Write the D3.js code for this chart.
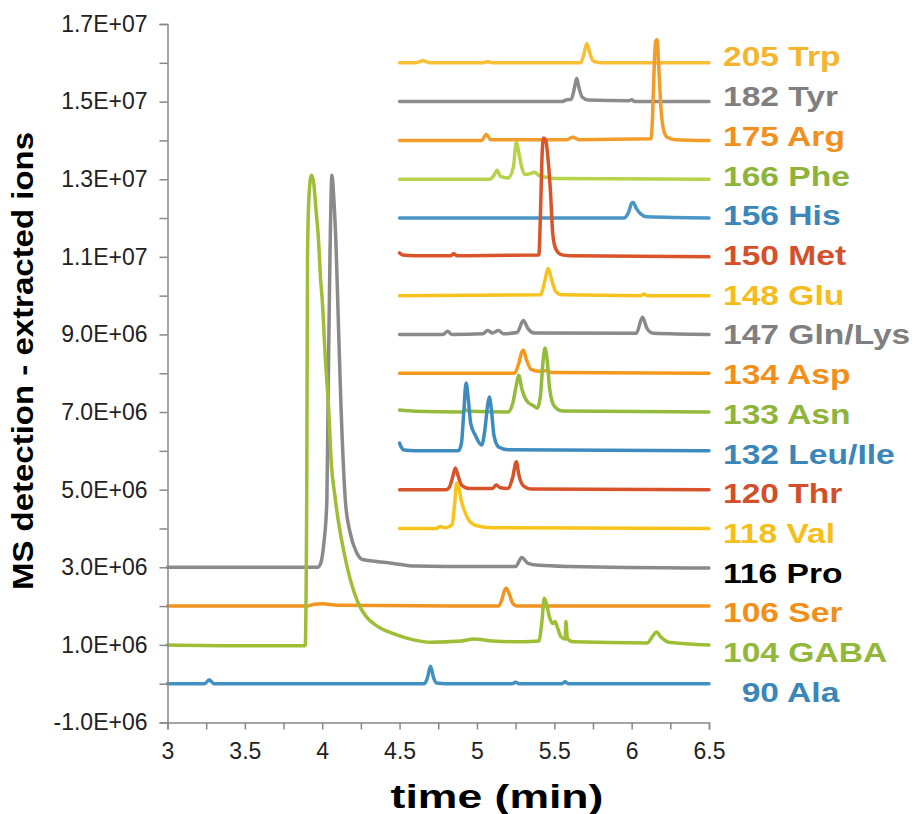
<!DOCTYPE html>
<html><head><meta charset="utf-8">
<script src="https://cdn.jsdelivr.net/npm/d3@7"></script>
<style>body{margin:0;background:#fff}svg{display:block}</style>
</head><body>
<svg id="c" width="916" height="814"></svg>
<script>
// ---- data (values in units of 1E+06 counts) ----
const names = ["205 Trp","182 Tyr","175 Arg","166 Phe","156 His","150 Met","148 Glu","147 Gln/Lys","134 Asp","133 Asn","132 Leu/Ile","120 Thr","118 Val","116 Pro","106 Ser","104 GABA","90 Ala"];
const lineColors = ["#F8BE34","#8C8C8C","#F39C2C","#B7D34C","#4A96C6","#DA5429","#F7C21E","#8A8A8A","#F39A1E","#93BB3C","#3E8CBF","#D9532A","#F8C31B","#8A8A8A","#F29420","#9DBE35","#4290C2"];
const labelColors = ["#F4B42E","#7F7F7F","#F0901E","#8DB33B","#3A86B8","#D4502A","#F5BC1B","#7F7F7F","#F0901A","#8EB43A","#3A86B8","#D24F29","#F5BF1A","#000000","#F0901A","#93B73A","#3A86B8"];

const trp = [[4.5,16.0],[4.6,16.0],[4.65,16.05],[4.7,16.0],[5.04,16.0],[5.07,16.03],[5.1,16.0],[5.67,16.0],[5.69,16.2],[5.71,16.5],[5.73,16.25],[5.75,16.05],[5.8,16.0],[6.5,16.0]];
const tyr = [[4.5,15.0],[5.55,15.0],[5.58,15.05],[5.61,15.06],[5.63,15.35],[5.645,15.6],[5.66,15.35],[5.68,15.12],[5.72,15.04],[5.98,15.02],[6.0,15.05],[6.02,15.0],[6.5,15.0]];
const arg = [[4.5,14.0],[5.03,14.0],[5.06,14.15],[5.09,14.02],[5.58,14.02],[5.62,14.08],[5.66,14.02],[6.125,14.04],[6.135,14.6],[6.145,15.8],[6.155,16.55],[6.165,16.6],[6.175,15.9],[6.19,14.8],[6.205,14.3],[6.23,14.08],[6.28,14.02],[6.5,14.0]];
const phe = [[4.5,13.0],[5.08,13.0],[5.11,13.1],[5.13,13.23],[5.15,13.08],[5.2,13.03],[5.235,13.3],[5.255,13.96],[5.27,13.7],[5.29,13.3],[5.31,13.12],[5.35,13.15],[5.37,13.18],[5.4,13.1],[5.45,13.05],[5.5,13.02],[6.5,13.0]];
const his = [[4.5,12.0],[5.95,12.0],[5.98,12.15],[6.0,12.38],[6.01,12.4],[6.03,12.25],[6.06,12.1],[6.1,12.03],[6.5,12.0]];
const met = [[4.5,11.1],[4.52,11.05],[4.6,11.03],[4.83,11.03],[4.85,11.08],[4.87,11.03],[5.4,11.05],[5.41,12.0],[5.42,13.5],[5.43,14.06],[5.445,14.0],[5.46,13.5],[5.475,12.7],[5.49,11.6],[5.51,11.2],[5.55,11.05],[5.6,11.03],[6.5,11.0]];
const glu = [[4.5,10.0],[5.41,10.02],[5.44,10.4],[5.46,10.7],[5.48,10.45],[5.51,10.1],[5.55,10.02],[6.06,10.0],[6.08,10.04],[6.1,10.0],[6.5,10.0]];
const glnlys = [[4.5,9.0],[4.78,9.0],[4.81,9.08],[4.84,9.0],[5.04,9.02],[5.07,9.1],[5.1,9.04],[5.14,9.1],[5.17,9.02],[5.26,9.05],[5.3,9.36],[5.33,9.15],[5.37,9.04],[6.03,9.03],[6.07,9.44],[6.1,9.15],[6.14,9.03],[6.5,9.0]];
const asp = [[4.5,8.0],[5.24,8.0],[5.27,8.25],[5.29,8.55],[5.3,8.6],[5.32,8.35],[5.35,8.1],[5.4,8.05],[5.45,8.07],[5.48,8.02],[6.5,8.0]];
const asn = [[4.5,7.05],[4.6,7.02],[4.9,7.0],[4.93,7.05],[4.95,7.02],[5.2,7.0],[5.23,7.2],[5.255,7.7],[5.27,7.95],[5.29,7.6],[5.32,7.3],[5.37,7.15],[5.39,7.1],[5.41,7.4],[5.425,8.2],[5.44,8.65],[5.455,8.3],[5.47,7.6],[5.5,7.15],[5.55,7.03],[6.5,7.0]];
const leuile = [[4.5,6.2],[4.51,6.1],[4.53,6.02],[4.6,6.0],[4.88,6.0],[4.9,6.2],[4.915,7.0],[4.93,7.75],[4.945,7.3],[4.96,6.7],[4.99,6.4],[5.03,6.15],[5.05,6.5],[5.07,7.2],[5.08,7.39],[5.095,7.0],[5.11,6.4],[5.14,6.1],[5.2,6.03],[6.5,6.0]];
const thr = [[4.5,5.0],[4.8,5.0],[4.82,5.05],[4.845,5.35],[4.86,5.56],[4.875,5.4],[4.9,5.12],[4.95,5.03],[5.1,5.03],[5.125,5.12],[5.15,5.05],[5.2,5.03],[5.23,5.3],[5.255,5.72],[5.27,5.4],[5.3,5.1],[5.35,5.02],[6.5,5.0]];
const val = [[4.5,4.0],[4.74,4.0],[4.76,4.05],[4.8,4.02],[4.84,4.1],[4.855,4.6],[4.87,5.17],[4.885,5.0],[4.9,4.7],[4.92,4.45],[4.95,4.2],[5.0,4.07],[5.1,4.02],[6.5,4.0]];
const pro = [[3.0,3.0],[3.5,3.0],[3.97,3.0],[3.99,3.1],[4.01,3.6],[4.03,4.7],[4.04,8.0],[4.05,11.0],[4.063,13.1],[4.075,12.5],[4.09,11.2],[4.1,9.9],[4.12,7.3],[4.15,4.7],[4.18,3.9],[4.22,3.4],[4.26,3.2],[4.35,3.15],[4.46,3.1],[4.6,3.03],[4.8,3.02],[5.25,3.02],[5.29,3.25],[5.33,3.1],[5.4,3.05],[5.6,3.02],[6.5,2.98]];
const ser = [[3.0,2.0],[3.9,2.0],[3.95,2.05],[4.0,2.06],[4.1,2.02],[5.14,2.0],[5.16,2.15],[5.18,2.42],[5.19,2.46],[5.21,2.3],[5.23,2.08],[5.26,2.0],[6.5,2.0]];
const gaba = [[3.0,1.0],[3.5,0.98],[3.89,0.98],[3.9,5.0],[3.905,11.0],[3.915,12.6],[3.93,13.1],[3.945,12.9],[3.96,12.2],[3.975,11.5],[3.99,10.4],[4.0,9.9],[4.02,8.4],[4.04,7.2],[4.06,5.6],[4.08,4.9],[4.1,4.3],[4.14,3.4],[4.18,2.7],[4.23,2.1],[4.28,1.75],[4.36,1.47],[4.46,1.29],[4.59,1.13],[4.7,1.07],[4.9,1.1],[4.98,1.15],[5.1,1.1],[5.3,1.08],[5.4,1.1],[5.42,1.6],[5.435,2.2],[5.45,2.05],[5.47,1.7],[5.49,1.55],[5.505,1.6],[5.52,1.45],[5.545,1.2],[5.57,1.15],[5.575,1.6],[5.585,1.15],[5.62,1.08],[6.1,1.05],[6.14,1.25],[6.16,1.33],[6.19,1.2],[6.24,1.07],[6.5,1.0]];
const ala = [[3.0,0.0],[3.24,0.0],[3.27,0.1],[3.3,0.0],[4.66,0.0],[4.68,0.15],[4.7,0.45],[4.72,0.15],[4.74,0.02],[4.8,0.0],[5.23,0.0],[5.25,0.04],[5.27,0.0],[5.55,0.0],[5.57,0.05],[5.59,0.0],[6.5,0.0]];
const traces = [trp,tyr,arg,phe,his,met,glu,glnlys,asp,asn,leuile,thr,val,pro,ser,gaba,ala];

const xTicks = [3,3.25,3.5,3.75,4,4.25,4.5,4.75,5,5.25,5.5,5.75,6,6.25,6.5];
const xTickLabels = {"3":"3","3.5":"3.5","4":"4","4.5":"4.5","5":"5","5.5":"5.5","6":"6","6.5":"6.5"};
const yTicks = [-1,0,1,2,3,4,5,6,7,8,9,10,11,12,13,14,15,16,17];
const yTickLabels = {"-1":"-1.0E+06","1":"1.0E+06","3":"3.0E+06","5":"5.0E+06","7":"7.0E+06","9":"9.0E+06","11":"1.1E+07","13":"1.3E+07","15":"1.5E+07","17":"1.7E+07"};
const xTitle = "time (min)";
const yTitle = "MS detection - extracted ions";

// ---- drawing ----
const svg = d3.select("#c");
const font = "'Liberation Sans', Arial, sans-serif";
const x = d3.scaleLinear().domain([3,6.5]).range([167.5,709]);
const y = d3.scaleLinear().domain([-1,17]).range([722.5,24]);

const line = d3.line().x(d=>x(d[0])).y(d=>y(d[1])).curve(d3.curveMonotoneX);
svg.append("g").selectAll("path").data(traces).join("path")
  .attr("d", line).attr("fill","none")
  .attr("stroke",(d,i)=>lineColors[i]).attr("stroke-width",3.5)
  .attr("stroke-linejoin","round").attr("stroke-linecap","round");

const axisColor = "#888";
const gy = svg.append("g").attr("transform",`translate(${x(3)},0)`)
  .call(d3.axisLeft(y).tickValues(yTicks).tickSize(8).tickPadding(12)
    .tickFormat(d=>yTickLabels[String(d)]||""));
const gx = svg.append("g").attr("transform",`translate(0,${y(-1)})`)
  .call(d3.axisBottom(x).tickValues(xTicks).tickSize(7).tickPadding(13)
    .tickFormat(d=>xTickLabels[String(d)]||""));
[gx,gy].forEach(g=>{
  g.select(".domain").attr("stroke",axisColor).attr("stroke-width",1.5);
  g.selectAll(".tick line").attr("stroke",axisColor).attr("stroke-width",1.5);
  g.selectAll(".tick text").attr("fill","#222").style("font-family",font).style("font-size","23px");
});

// labels
const ly = d3.scalePoint().domain(names).range([56.3,691.7]);
svg.append("g").selectAll("text").data(names).join("text")
  .attr("transform",d=>`translate(723,${ly(d)}) scale(1.2,1)`)
  .attr("dy","0.36em")
  .attr("dx",d=>/^\d\d /.test(d)?"0.556em":0)
  .attr("fill",(d,i)=>labelColors[i])
  .style("font-family",font).style("font-size","28px").style("font-weight","bold")
  .text(d=>d);

svg.append("text").attr("transform","translate(497,808) scale(1.35,1)")
  .attr("text-anchor","middle").style("font-family",font).style("font-size","33px")
  .style("font-weight","bold").attr("fill","#000").text(xTitle);
svg.append("text").attr("transform","translate(33,361) rotate(-90) scale(1.1,1)")
  .attr("text-anchor","middle").style("font-family",font).style("font-size","30px")
  .style("font-weight","bold").attr("fill","#000").text(yTitle);
</script>
</body></html>
